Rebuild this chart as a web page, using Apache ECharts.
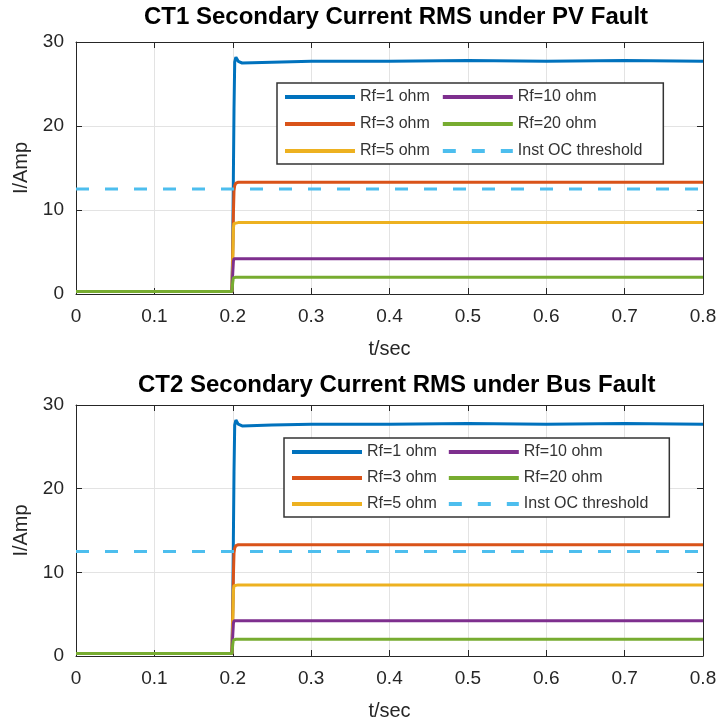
<!DOCTYPE html>
<html>
<head>
<meta charset="utf-8">
<script src="https://cdn.jsdelivr.net/npm/echarts@6/dist/echarts.min.js"></script>
<style>
html,body{margin:0;padding:0;background:#fff;}
#chart{width:724px;height:725px;}
</style>
</head>
<body>
<div id="chart"></div>
<script>
// ---- data ----
const titles = ['CT1 Secondary Current RMS under PV Fault', 'CT2 Secondary Current RMS under Bus Fault'];
const seriesNames = ['Rf=1 ohm', 'Rf=3 ohm', 'Rf=5 ohm', 'Rf=10 ohm', 'Rf=20 ohm', 'Inst OC threshold'];
const legendOrder = ['Rf=1 ohm', 'Rf=3 ohm', 'Rf=5 ohm', 'Rf=10 ohm', 'Rf=20 ohm', 'Inst OC threshold'];
const xTicks = [0, 0.1, 0.2, 0.3, 0.4, 0.5, 0.6, 0.7, 0.8];
const yTicks = [0, 10, 20, 30];

const timeSec = [0, 0.1, 0.199, 0.2, 0.2008, 0.2016, 0.2025, 0.204, 0.207, 0.212, 0.25, 0.3, 0.4, 0.5, 0.6, 0.7, 0.8];

const ct1Rf1  = [0.3, 0.3, 0.3, 6.0, 14.0, 22.0, 27.6, 28.2, 27.7, 27.5, 27.6, 27.7, 27.7, 27.8, 27.7, 27.8, 27.7];
const ct1Rf3  = [0.3, 0.3, 0.3, 5.0, 9.5, 12.3, 12.9, 13.2, 13.3, 13.3, 13.3, 13.3, 13.3, 13.3, 13.3, 13.3, 13.3];
const ct1Rf5  = [0.3, 0.3, 0.3, 4.0, 7.8, 8.4, 8.5, 8.5, 8.5, 8.5, 8.5, 8.5, 8.5, 8.5, 8.5, 8.5, 8.5];
const ct1Rf10 = [0.3, 0.3, 0.3, 2.5, 3.9, 4.2, 4.2, 4.2, 4.2, 4.2, 4.2, 4.2, 4.2, 4.2, 4.2, 4.2, 4.2];
const ct1Rf20 = [0.3, 0.3, 0.3, 1.4, 1.9, 2.0, 2.0, 2.0, 2.0, 2.0, 2.0, 2.0, 2.0, 2.0, 2.0, 2.0, 2.0];

const ct2Rf1  = [0.3, 0.3, 0.3, 6.0, 14.0, 22.0, 27.6, 28.2, 27.7, 27.5, 27.6, 27.7, 27.7, 27.8, 27.7, 27.8, 27.7];
const ct2Rf3  = [0.3, 0.3, 0.3, 5.0, 9.5, 12.3, 12.9, 13.2, 13.3, 13.3, 13.3, 13.3, 13.3, 13.3, 13.3, 13.3, 13.3];
const ct2Rf5  = [0.3, 0.3, 0.3, 4.0, 7.8, 8.4, 8.5, 8.5, 8.5, 8.5, 8.5, 8.5, 8.5, 8.5, 8.5, 8.5, 8.5];
const ct2Rf10 = [0.3, 0.3, 0.3, 2.5, 3.9, 4.2, 4.2, 4.2, 4.2, 4.2, 4.2, 4.2, 4.2, 4.2, 4.2, 4.2, 4.2];
const ct2Rf20 = [0.3, 0.3, 0.3, 1.4, 1.9, 2.0, 2.0, 2.0, 2.0, 2.0, 2.0, 2.0, 2.0, 2.0, 2.0, 2.0, 2.0];

const thresholdTime = [0, 0.8];
const thresholdValue = [12.5, 12.5];

const colors = ['#0072BD', '#D95319', '#EDB120', '#7E2F8E', '#77AC30', '#4DBEEE'];

// ---- build option ----
const FONT = '"Liberation Sans", Arial, Helvetica, sans-serif';
const AXC = '#262626';
const grids = [
  {left: 76, top: 42, width: 627, height: 252},
  {left: 76, top: 405, width: 627, height: 251}
];
const legendPos = [{left: 277, top: 83}, {left: 284, top: 438}];
const legendGap = [11, 10];
const titleTop = [0, 368];
const TITLE_SIZE = 24;

function pairs(xs, ys) { return xs.map((x, i) => [x, ys[i]]); }
function textWidth(str, font) {
  const c = document.createElement('canvas').getContext('2d');
  c.font = font; return c.measureText(str).width;
}

const plotData = [
  [ct1Rf1, ct1Rf3, ct1Rf5, ct1Rf10, ct1Rf20],
  [ct2Rf1, ct2Rf3, ct2Rf5, ct2Rf10, ct2Rf20]
];

const xAxis = [], yAxis = [], series = [], title = [], legend = [];
grids.forEach((g, gi) => {
  xAxis.push({
    type: 'value', gridIndex: gi, min: 0, max: 0.8, interval: 0.1, position: 'bottom',
    name: 't/sec', nameLocation: 'middle', nameGap: 45,
    nameTextStyle: {fontFamily: FONT, fontSize: 20, color: AXC},
    axisLine: {show: true, onZero: false, lineStyle: {color: AXC, width: 1}},
    axisTick: {show: true, inside: true, length: 6, lineStyle: {color: AXC}},
    axisLabel: {fontFamily: FONT, fontSize: 19, color: AXC, margin: 13,
      formatter: v => { const t = xTicks.find(k => Math.abs(k - v) < 1e-9); return t === undefined ? '' : String(t); }},
    splitLine: {show: true, lineStyle: {color: '#e3e3e3', width: 1}}
  });
  xAxis.push({
    type: 'value', gridIndex: gi, min: 0, max: 0.8, interval: 0.1, position: 'top',
    axisLine: {show: true, onZero: false, lineStyle: {color: AXC, width: 1}},
    axisTick: {show: true, inside: true, length: 6, lineStyle: {color: AXC}},
    axisLabel: {show: false}, splitLine: {show: false}
  });
  yAxis.push({
    type: 'value', gridIndex: gi, min: 0, max: 30, interval: 10, position: 'left',
    name: 'I/Amp', nameLocation: 'middle', nameGap: 31, nameRotate: 90,
    nameTextStyle: {fontFamily: FONT, fontSize: 20, color: AXC},
    axisLine: {show: true, onZero: false, lineStyle: {color: AXC, width: 1}},
    axisTick: {show: true, inside: true, length: 6, lineStyle: {color: AXC}},
    axisLabel: {fontFamily: FONT, fontSize: 19, color: AXC, margin: 12,
      formatter: v => (yTicks.indexOf(v) >= 0 ? String(v) : '')},
    splitLine: {show: true, lineStyle: {color: '#e3e3e3', width: 1}}
  });
  yAxis.push({
    type: 'value', gridIndex: gi, min: 0, max: 30, interval: 10, position: 'right',
    axisLine: {show: true, onZero: false, lineStyle: {color: AXC, width: 1}},
    axisTick: {show: true, inside: true, length: 6, lineStyle: {color: AXC}},
    axisLabel: {show: false}, splitLine: {show: false}
  });
  const tw = textWidth(titles[gi], 'bold ' + TITLE_SIZE + 'px ' + FONT);
  title.push({
    text: titles[gi], left: Math.round(g.left + g.width / 2 - tw / 2 + 2), top: titleTop[gi],
    textStyle: {fontFamily: FONT, fontSize: TITLE_SIZE, fontWeight: 'bold', color: '#000'}
  });
  plotData[gi].forEach((vals, si) => {
    series.push({
      name: seriesNames[si], type: 'line', xAxisIndex: gi * 2, yAxisIndex: gi * 2,
      data: pairs(timeSec, vals), showSymbol: false, symbol: 'none',
      lineStyle: {width: 3, color: colors[si]}, itemStyle: {color: colors[si]},
      animation: false, z: 2 + si
    });
  });
  series.push({
    name: seriesNames[5], type: 'line', xAxisIndex: gi * 2, yAxisIndex: gi * 2,
    data: pairs(thresholdTime, thresholdValue), showSymbol: false, symbol: 'none',
    lineStyle: {width: 3, color: colors[5], type: [13, 16]}, itemStyle: {color: colors[5]},
    animation: false, z: 8
  });
  legend.push({
    data: legendOrder, orient: 'vertical', left: legendPos[gi].left, top: legendPos[gi].top,
    height: 90, itemWidth: 70, itemHeight: 14, itemGap: legendGap[gi],
    padding: [6, 21, 5, 6],
    backgroundColor: '#fff', borderColor: '#333', borderWidth: 1.5,
    textStyle: {fontFamily: FONT, fontSize: 16, color: '#333'},
    lineStyle: {width: 4},
    itemStyle: {opacity: 0},
    selectedMode: false
  });
});

const chart = echarts.init(document.getElementById('chart'), null, {renderer: 'canvas'});
chart.setOption({
  animation: false, backgroundColor: '#fff', color: colors,
  title, legend, grid: grids, xAxis, yAxis, series
});
</script>
</body>
</html>
